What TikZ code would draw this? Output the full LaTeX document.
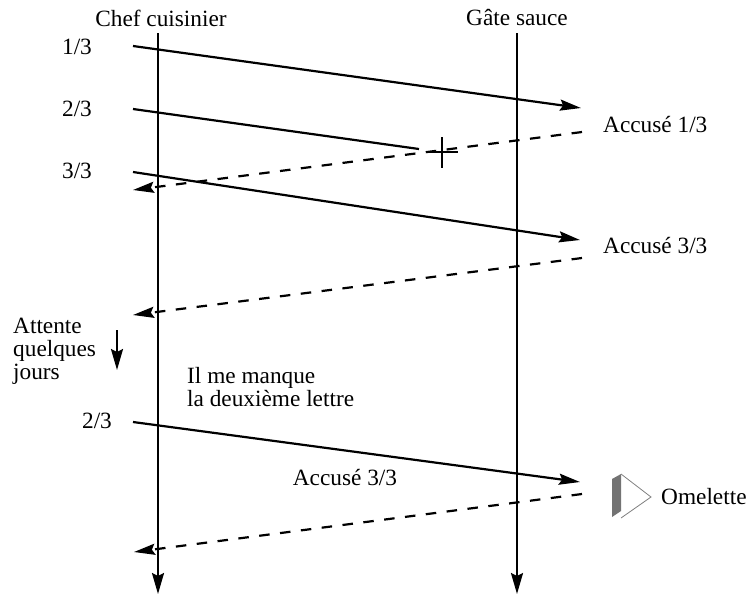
\documentclass[tikz,border=0pt]{standalone}
\usepackage{fontspec}
\setmainfont{Liberation Serif}
\usetikzlibrary{arrows.meta}
\begin{document}
\begin{tikzpicture}[x=1pt,y=-1pt,
  txt/.style={inner sep=0pt,font=\fontsize{23.3}{23}\selectfont},
  life/.style={line width=2.2pt,-{Stealth[length=21pt,width=12pt,inset=3pt]}},
  msg/.style={line width=2.2pt,-{Stealth[length=21pt,width=11pt,inset=3pt]}},
  lost/.style={line width=2.2pt},
  ack/.style={line width=2.2pt,dash pattern=on 10.5pt off 10.5pt,-{Stealth[length=21pt,width=11pt,inset=3pt]}}]
\useasboundingbox (0,0) rectangle (753,598);
% lifelines
\node[txt] (chef) at (161,18) {Chef cuisinier};
\node[txt] (gate) at (517,18) {Gâte sauce};
\coordinate (ct) at (158,33); \coordinate (cb) at (158,594);
\coordinate (gt) at (517,33); \coordinate (gb) at (517,594);
\draw[life] (ct) -- (cb);
\draw[life] (gt) -- (gb);
% labels
\node[txt] (l1) at (77,47) {1/3};
\node[txt] (l2) at (77,109) {2/3};
\node[txt] (l3) at (77,171) {3/3};
\node[txt,anchor=west] (a1) at (603,125) {Accusé 1/3};
\node[txt,anchor=west] (a3) at (603,246) {Accusé 3/3};
\node[txt,align=left,anchor=north west] (att) at (13,318) {Attente\\quelques\\jours};
\node[txt,align=left,anchor=north west] (il) at (187,367) {Il me manque\\la deuxième lettre};
\node[txt] (l4) at (97,421) {2/3};
\node[txt] (a3b) at (345,478) {Accusé 3/3};
\node[txt,anchor=west] (om) at (661,497) {Omelette};
% message endpoints
\coordinate (m1s) at (133,46); \coordinate (m1e) at (581,108);
\coordinate (m2s) at (133,109); \coordinate (m2e) at (419,149);
\coordinate (d1s) at (582,132); \coordinate (d1e) at (133,190);
\coordinate (m3s) at (133,172); \coordinate (m3e) at (580,240);
\coordinate (d2s) at (582,258); \coordinate (d2e) at (133,315);
\coordinate (m4s) at (133,422); \coordinate (m4e) at (580,482);
\coordinate (d3s) at (582,494); \coordinate (d3e) at (134,552);
\draw[msg] (m1s) -- (m1e);
\draw[lost] (m2s) -- (m2e);
\draw[ack] (d1s) -- (d1e);
\draw[msg] (m3s) -- (m3e);
\draw[ack] (d2s) -- (d2e);
\draw[msg] (m4s) -- (m4e);
\draw[ack] (d3s) -- (d3e);
% cross
\coordinate (xt) at (442,137); \coordinate (xb) at (442,168);
\coordinate (xl) at (427,152); \coordinate (xr) at (458,152);
\draw[line width=2.2pt] (xt) -- (xb);
\draw[line width=2.2pt] (xl) -- (xr);
% wait arrow
\coordinate (wt) at (117,330); \coordinate (wb) at (117,370);
\draw[life] (wt) -- (wb);
% omelette symbol
\fill[gray!90!black] (612,479) -- (621,474) -- (621,511) -- (612,517) -- cycle;
\draw[gray,line width=0.8pt] (621,474) -- (651,497) -- (621,518);
\end{tikzpicture}
\end{document}
